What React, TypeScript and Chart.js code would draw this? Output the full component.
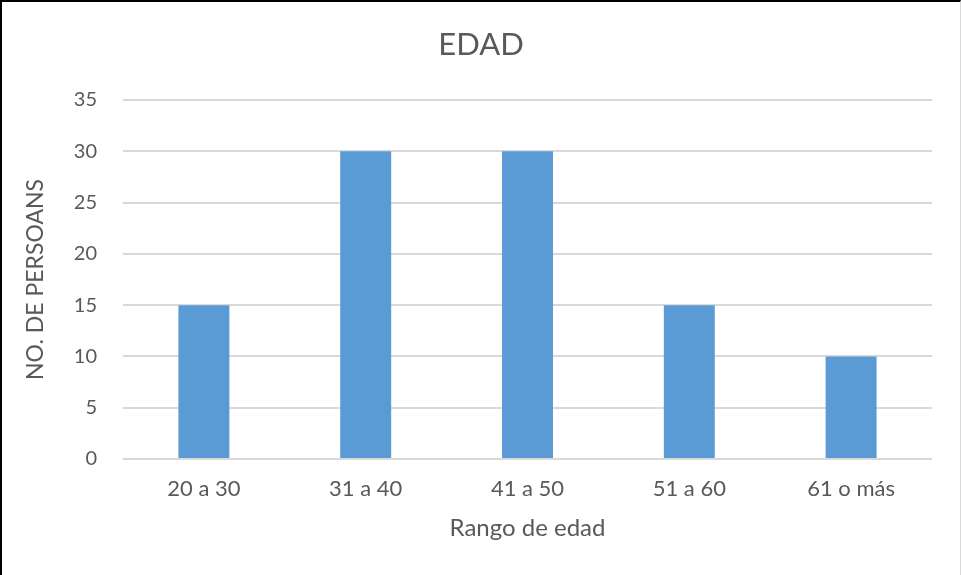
import React, { useEffect, useRef } from "react";
import { Chart, registerables } from "chart.js";

Chart.register(...registerables);

// Age ranges and head counts
const categories = ["20 a 30", "31 a 40", "41 a 50", "51 a 60", "61 o más"];
const personas = [15, 30, 30, 15, 10];
const yMax = 35;
const yStep = 5;

const chartTitle = "EDAD";
const xTitle = "Rango de edad";
const yTitle = "NO. DE PERSOANS";

const FONT = "Lato, 'Open Sans', sans-serif";
const TEXT = "#595959";
const GRID = "#d9d9d9";
const BAR = "#5b9bd5";

export default function App() {
  const canvasRef = useRef<HTMLCanvasElement | null>(null);

  useEffect(() => {
    const canvas = canvasRef.current;
    if (!canvas) return;
    const chart = new Chart(canvas, {
      type: "bar",
      data: {
        labels: categories,
        datasets: [
          {
            label: "Personas",
            data: personas,
            backgroundColor: BAR,
            borderWidth: 0,
            categoryPercentage: 1,
            barPercentage: 0.315,
          },
        ],
      },
      options: {
        responsive: false,
        animation: false,
        layout: { padding: 0 },
        plugins: {
          legend: { display: false },
          tooltip: { enabled: false },
          title: {
            display: true,
            text: chartTitle,
            color: TEXT,
            font: { family: FONT, size: 31, weight: "normal", lineHeight: 1.2 },
            padding: { top: 24.4, bottom: 36.4 },
          },
        },
        scales: {
          x: {
            grid: { display: false, drawTicks: false },
            border: { display: false },
            ticks: {
              color: TEXT,
              font: { family: FONT, size: 22, lineHeight: 1.2 },
              padding: 17,
              maxRotation: 0,
            },
            title: {
              display: true,
              text: xTitle,
              color: TEXT,
              font: { family: FONT, size: 24, lineHeight: 1.2 },
              padding: { top: 0, bottom: 32.6 },
            },
            afterFit: (scale: any) => {
              scale.height = 116;
            },
          },
          y: {
            min: 0,
            max: yMax,
            grid: { color: GRID, lineWidth: 2, drawTicks: false },
            border: { display: false },
            ticks: {
              stepSize: yStep,
              color: TEXT,
              font: { family: FONT, size: 20, lineHeight: 1.2 },
              padding: 26,
            },
            title: {
              display: true,
              text: yTitle,
              color: TEXT,
              font: { family: FONT, size: 23, lineHeight: 1.2 },
              padding: { top: 20, bottom: 0 },
            },
            afterFit: (scale: any) => {
              scale.width = 121;
            },
          },
          // empty right-hand margin box so the title stays centred on the canvas
          gutter: {
            type: "linear",
            position: "right",
            display: true,
            grid: { display: false, drawTicks: false },
            border: { display: false },
            ticks: { display: false },
            afterFit: (scale: any) => {
              scale.width = 28;
            },
          },
        },
      },
    });
    return () => chart.destroy();
  }, []);

  return (
    <div
      style={{
        position: "absolute",
        left: 0,
        top: 0,
        width: 961,
        height: 575,
        boxSizing: "border-box",
        borderLeft: "2px solid #000",
        borderTop: "2px solid #000",
        borderRight: "1px solid #d9d9d9",
        background: "#fff",
        overflow: "hidden",
      }}
    >
      <canvas ref={canvasRef} width={958} height={573} style={{ display: "block" }} />
    </div>
  );
}
